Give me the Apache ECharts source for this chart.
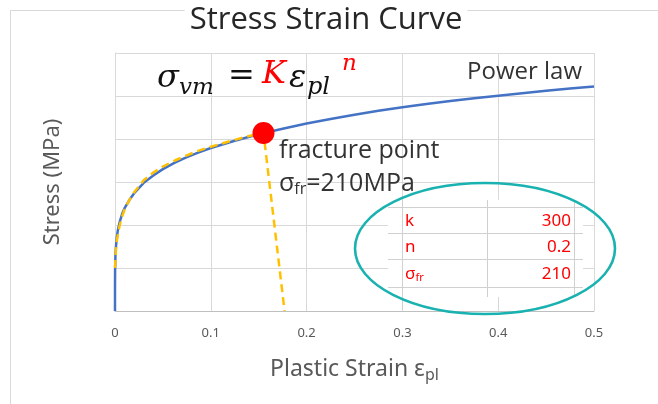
<!DOCTYPE html>
<html><head><meta charset="utf-8">
<script src="https://cdn.jsdelivr.net/npm/echarts@6/dist/echarts.min.js"></script>
<style>html,body{margin:0;padding:0;background:#fff}#c{width:658px;height:404px}</style>
</head><body><div id="c"></div>
<script>
// ---- data ----
const strainBlue = [0, 0.00001, 0.0001, 0.0005, 0.001, 0.002, 0.003, 0.005, 0.0075, 0.01, 0.015, 0.02, 0.03, 0.04, 0.05, 0.0625, 0.075, 0.0875, 0.1, 0.125, 0.15, 0.175, 0.2, 0.225, 0.25, 0.275, 0.3, 0.325, 0.35, 0.375, 0.4, 0.425, 0.45, 0.475, 0.5];
const stressBlue = [0, 30, 48, 66, 75, 86.5, 94, 104, 113, 119.5, 129, 137, 149, 157.5, 165, 172.5, 179, 184.5, 189.5, 198, 205.5, 212, 218, 223.3, 228.3, 232.8, 237, 240.8, 244.3, 247.5, 250.4, 253.3, 256, 258.6, 261];
const strainFit = [0, 0.001, 0.002, 0.0035, 0.005, 0.0075, 0.01, 0.015, 0.02, 0.03, 0.04, 0.05, 0.0625, 0.075, 0.0875, 0.1, 0.125, 0.14, 0.155, 0.177];
const stressFit = [50, 72, 82, 92, 100, 110, 118, 129, 138, 152, 161, 168, 175, 181, 186.5, 191, 199, 203.5, 207, 0];
const fracturePoint = [0.155, 207];
const xTickValues = [0, 0.1, 0.2, 0.3, 0.4, 0.5];
const tableNames = ['k', 'n', 'σfr'];
const tableValues = ['300', '0.2', '210'];

const chart = echarts.init(document.getElementById('c'));
const gray = '#595959';
const grid = '#d9d9d9';
const sans = 'Open Sans';

const blueData = strainBlue.map((x, i) => [x, stressBlue[i]]);
const fitData = strainFit.map((x, i) => [x, stressFit[i]]);

// table graphic
const tbl = [];
tbl.push({type:'rect', shape:{x:388, y:200, width:195, height:97}, style:{fill:'#fff'}, z:10});
[207.5, 233.5, 259.5, 287.5].forEach(y => tbl.push({type:'line', shape:{x1:388, y1:y, x2:583, y2:y}, style:{stroke:'#d0d0d0', lineWidth:1}, z:11}));
[[402.5,200,310],[487.5,200,297],[574.5,200,297]].forEach(v => tbl.push({type:'line', shape:{x1:v[0], y1:v[1], x2:v[0], y2:v[2]}, style:{stroke:'#d0d0d0', lineWidth:1}, z:11}));
tableNames.forEach((n, i) => {
  const y = 221 + i * 26.5;
  if (n === 'σfr') {
    tbl.push({type:'text', x:405, y:y, style:{text:'{a|σ}{b|fr}', rich:{a:{fontSize:17, fill:'#ff0000', fontFamily:'Noto Sans'}, b:{fontSize:11, fill:'#ff0000', fontFamily:'Noto Sans', padding:[8,0,0,0]}}, verticalAlign:'middle'}, z:12});
  } else {
    tbl.push({type:'text', x:405, y:y, style:{text:n, fontSize:17, fill:'#ff0000', fontFamily:'Noto Sans', verticalAlign:'middle'}, z:12});
  }
  tbl.push({type:'text', x:571, y:y, style:{text:tableValues[i], fontSize:17, fill:'#ff0000', fontFamily:'Noto Sans', align:'right', verticalAlign:'middle'}, z:12});
});

const serif = 'DejaVu Serif';
const formula = [
  {t:'σ', x:157, y:79, s:32, c:'#111'},
  {t:'vm', x:179, y:88, s:23, c:'#111'},
  {t:'=', x:228, y:77, s:32, c:'#111', up:true},
  {t:'K', x:262, y:75, s:32, c:'#ff0000'},
  {t:'ε', x:289, y:79, s:32, c:'#111'},
  {t:'pl', x:307, y:88, s:24, c:'#111'},
  {t:'n', x:342, y:64, s:23, c:'#ff0000'}
].map(f => ({type:'text', x:f.x, y:f.y, z:15, style:{text:f.t, fontSize:f.s, fontStyle:f.up?'normal':'italic', fontFamily:serif, fill:f.c, verticalAlign:'middle'}}));

chart.setOption({
  animation:false,
  grid:{left:115, right:64, top:53, bottom:93},
  xAxis:{
    type:'value', min:0, max:0.5, interval:0.1,
    axisLine:{show:true, lineStyle:{color:'#bfbfbf'}},
    axisTick:{show:false},
    axisLabel:{color:gray, fontSize:13, fontFamily:'Noto Sans', margin:16,
      formatter: v => xTickValues.indexOf(+v.toFixed(1)) >= 0 ? String(+v.toFixed(1)) : ''},
    splitLine:{show:true, lineStyle:{color:grid}},
    name:'{a|Plastic Strain ε}{b|pl}', nameLocation:'middle', nameGap:44,
    nameTextStyle:{rich:{a:{fontSize:23, color:gray, fontFamily:'Noto Sans'}, b:{fontSize:16, color:gray, fontFamily:'Noto Sans', padding:[12,0,0,0]}}}
  },
  yAxis:{
    type:'value', min:0, max:300, interval:50,
    axisLine:{show:true, lineStyle:{color:grid}},
    axisTick:{show:false},
    axisLabel:{show:false},
    splitLine:{show:true, lineStyle:{color:grid}},
    name:'Stress (MPa)', nameLocation:'middle', nameGap:51,
    nameTextStyle:{fontSize:22, color:gray, fontFamily:'Noto Sans'}
  },
  series:[
    {type:'line', data:blueData, showSymbol:false, smooth:false, lineStyle:{color:'#4472C4', width:2.5, join:'round'}, z:3},
    {type:'line', data:fitData, showSymbol:false, smooth:false, lineStyle:{color:'#FFC000', width:2.5, type:[8,5]}, z:4},
    {type:'scatter', data:[fracturePoint], symbolSize:22, itemStyle:{color:'#ff0000', opacity:1}, z:5}
  ],
  graphic:[
    {type:'line', shape:{x1:10.5, y1:10.5, x2:658, y2:10.5}, style:{stroke:grid, lineWidth:1}, z:1},
    {type:'line', shape:{x1:10.5, y1:10.5, x2:10.5, y2:404}, style:{stroke:grid, lineWidth:1}, z:1},
    {type:'text', x:326, y:20, z:2, style:{text:'Stress Strain Curve', fontSize:31, fontFamily:sans, fill:'#262626', align:'center', verticalAlign:'middle', backgroundColor:'#fff', padding:[0,5]}},
    {type:'text', x:582, y:72, z:15, style:{text:'Power law', fontSize:24, fontFamily:sans, fill:'#333', align:'right', verticalAlign:'middle'}},
    {type:'text', x:279, y:151, z:15, style:{text:'fracture point', fontSize:25, fontFamily:sans, fill:'#333', verticalAlign:'middle'}},
    {type:'text', x:279, y:184, z:15, style:{text:'{a|σ}{b|fr}{a|=210MPa}', verticalAlign:'middle',
      rich:{a:{fontSize:25, fontFamily:sans, fill:'#333'}, b:{fontSize:16, fontFamily:sans, fill:'#333', padding:[11,0,0,0]}}}},
    ...tbl,
    {type:'ellipse', shape:{cx:485, cy:248.5, rx:130, ry:65.5}, style:{fill:null, stroke:'#19B2B0', lineWidth:2.6}, z:20},
    ...formula
  ]
});
</script></body></html>
